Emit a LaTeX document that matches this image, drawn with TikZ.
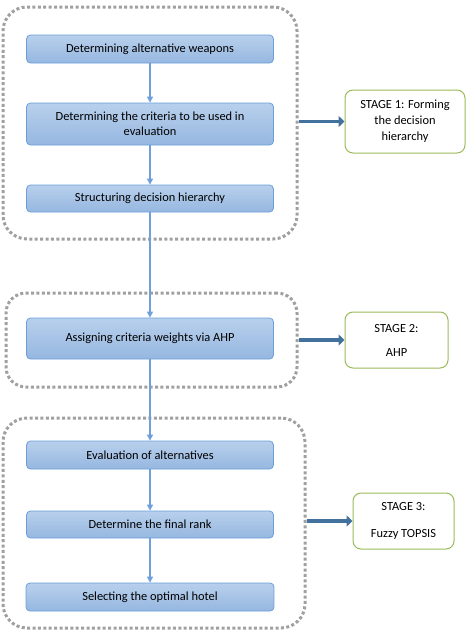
\documentclass[tikz,border=0pt]{standalone}
\usepackage{fontspec}
\setmainfont{Carlito}
\usepackage{tikz}
\usetikzlibrary{arrows.meta, positioning}
\usepackage{xcolor}
\definecolor{boxtop}{HTML}{B8D0EC}
\definecolor{boxbot}{HTML}{96B7E0}
\definecolor{boxline}{HTML}{6C9FD8}
\definecolor{flowblue}{HTML}{6FA0DC}
\definecolor{stageblue}{HTML}{41719C}
\definecolor{stagegreen}{HTML}{9BBB59}
\definecolor{framegray}{HTML}{A0A0A0}

\tikzset{
    stepbox/.style={draw=boxline, line width=0.8pt, rounded corners=4pt,
        top color=boxtop, bottom color=boxbot, minimum width=247pt,
        minimum height=28pt, align=center, inner sep=0pt,
        font=\fontsize{12.4}{15}\selectfont},
    stagebox/.style={draw=stagegreen, line width=1pt, rounded corners=8pt,
        fill=white, align=center, inner sep=0pt,
        font=\fontsize{12.4}{16}\selectfont},
    groupframe/.style={draw=framegray, line width=3pt, rounded corners=24pt,
        dash pattern=on 3pt off 2.4pt, inner sep=0pt},
    flowarrow/.style={-{Triangle[length=6pt, width=6pt]}, flowblue, line width=1.2pt},
    stagearrow/.style={-{Triangle[length=6pt, width=11pt]}, stageblue, line width=3.5pt}
}

\begin{document}
\begin{tikzpicture}[x=1pt, y=-1pt]
    \useasboundingbox (0,0) rectangle (469,635);

    % 阶段一
    \node[groupframe, minimum width=294pt, minimum height=232pt] (frame1) at (150,123) {};
    \node[stepbox] (alt) at (150,49) {Determining alternative weapons};
    \node[stepbox, minimum height=42pt] (crit) at (150,124) {Determining the criteria to be used in\\evaluation};
    \node[stepbox, minimum height=27pt] (hier) at (150,198.5) {Structuring decision hierarchy};
    \node[stagebox, minimum width=120pt, minimum height=63pt] (stage1) at (405,121.5)
        {STAGE 1: Forming\\the decision\\hierarchy};

    % 阶段二
    \node[groupframe, rounded corners=20pt, minimum width=291pt, minimum height=94pt] (frame2) at (151.5,340) {};
    \node[stepbox, minimum height=41pt] (ahp) at (150,338.5) {Assigning criteria weights via AHP};
    \node[stagebox, minimum width=103pt, minimum height=56pt] (stage2) at (396.5,340)
        {STAGE 2:\\[8pt]AHP};

    % 阶段三
    \node[groupframe, minimum width=302pt, minimum height=210pt] (frame3) at (154,523) {};
    \node[stepbox] (eval) at (150,455) {Evaluation of alternatives};
    \node[stepbox, minimum height=27pt] (rank) at (150,524.5) {Determine the final rank};
    \node[stepbox, minimum width=248pt] (sel) at (150,597) {Selecting the optimal hotel};
    \node[stagebox, minimum width=101pt, minimum height=56pt] (stage3) at (403.5,521)
        {STAGE 3:\\[11pt]Fuzzy TOPSIS};

    % 流程箭头
    \draw[flowarrow] (alt) -- (crit);
    \draw[flowarrow] (crit) -- (hier);
    \draw[flowarrow] (hier) -- (ahp);
    \draw[flowarrow] (ahp) -- (eval);
    \draw[flowarrow] (eval) -- (rank);
    \draw[flowarrow] (rank) -- (sel);

    % 阶段箭头
    \draw[stagearrow] (frame1.east |- stage1) -- (stage1);
    \draw[stagearrow] (frame2.east |- stage2) -- (stage2);
    \draw[stagearrow] (frame3.east |- stage3) -- (stage3);
\end{tikzpicture}
\end{document}
